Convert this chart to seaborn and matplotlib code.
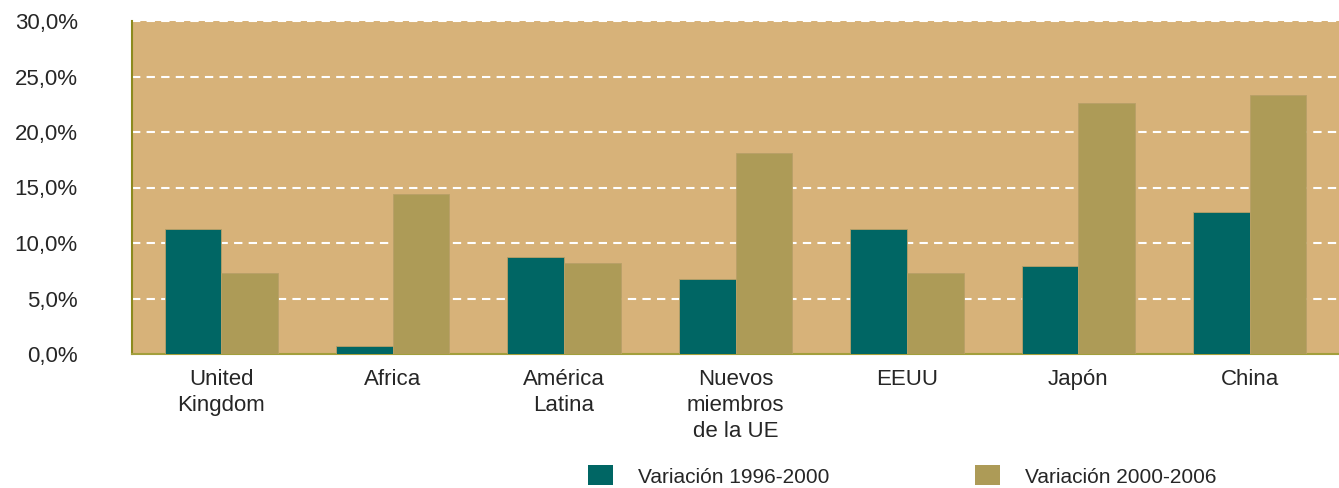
import pandas as pd
import matplotlib.pyplot as plt
import seaborn as sns
from matplotlib.patches import Patch
from matplotlib.ticker import FuncFormatter

categories = ["United\nKingdom", "Africa", "América\nLatina", "Nuevos\nmiembros\nde la UE",
              "EEUU", "Japón", "China"]
series = ["Variación 1996-2000", "Variación 2000-2006"]
var_1996_2000 = [11.3, 0.7, 8.7, 6.8, 11.3, 7.9, 12.8]
var_2000_2006 = [7.3, 14.4, 8.2, 18.1, 7.3, 22.6, 23.3]

colors = ["#006664", "#ad9b57"]

df = pd.DataFrame({
    "categoria": categories * 2,
    "serie": [series[0]] * len(categories) + [series[1]] * len(categories),
    "valor": var_1996_2000 + var_2000_2006,
})

sns.set_style("white")
plt.rcParams["font.family"] = ["Liberation Sans", "DejaVu Sans"]

fig = plt.figure(figsize=(13.39, 4.88), dpi=100)
ax = fig.add_axes([132 / 1339, 1 - 354 / 488, 1 - 132 / 1339, (354 - 21) / 488])
ax.set_facecolor("#d7b279")

sns.barplot(data=df, x="categoria", y="valor", hue="serie", palette=colors,
            saturation=1, width=0.66, ax=ax, legend=False, zorder=3,
            edgecolor="#b8a067", linewidth=0.6)

ax.set_ylim(0, 30)
ax.set_xlim(-0.52, len(categories) - 0.48)
ax.set_yticks(range(0, 31, 5))
ax.yaxis.set_major_formatter(FuncFormatter(lambda v, p: f"{v:.1f}%".replace(".", ",")))
for y in range(5, 31, 5):
    ax.axhline(y, color="white", linestyle=(0, (4, 3)), linewidth=1.5, zorder=1)

ax.set_xlabel("")
ax.set_ylabel("")
ax.tick_params(axis="y", length=0, pad=39, labelsize=16)
ax.tick_params(axis="x", length=0, pad=11, labelsize=16)
for lbl in ax.get_xticklabels():
    lbl.set_linespacing(1.3)

for side in ["top", "right"]:
    ax.spines[side].set_visible(False)
ax.spines["left"].set_color("#8c8a1e")
ax.spines["bottom"].set_color("#a39f3c")
ax.spines["left"].set_linewidth(1.5)
ax.spines["bottom"].set_linewidth(1.5)

handles = [Patch(facecolor=c, edgecolor="none") for c in colors]
fig.legend(handles, series, loc="center left", bbox_to_anchor=(569 / 1339, 1 - 476 / 488),
           ncol=2, frameon=False, handlelength=1.2, handleheight=1.1, handletextpad=1.2,
           columnspacing=7.0, prop={"family": ["Liberation Sans Narrow", "Liberation Sans"], "size": 15})

fig.savefig("out.png", dpi=100)
